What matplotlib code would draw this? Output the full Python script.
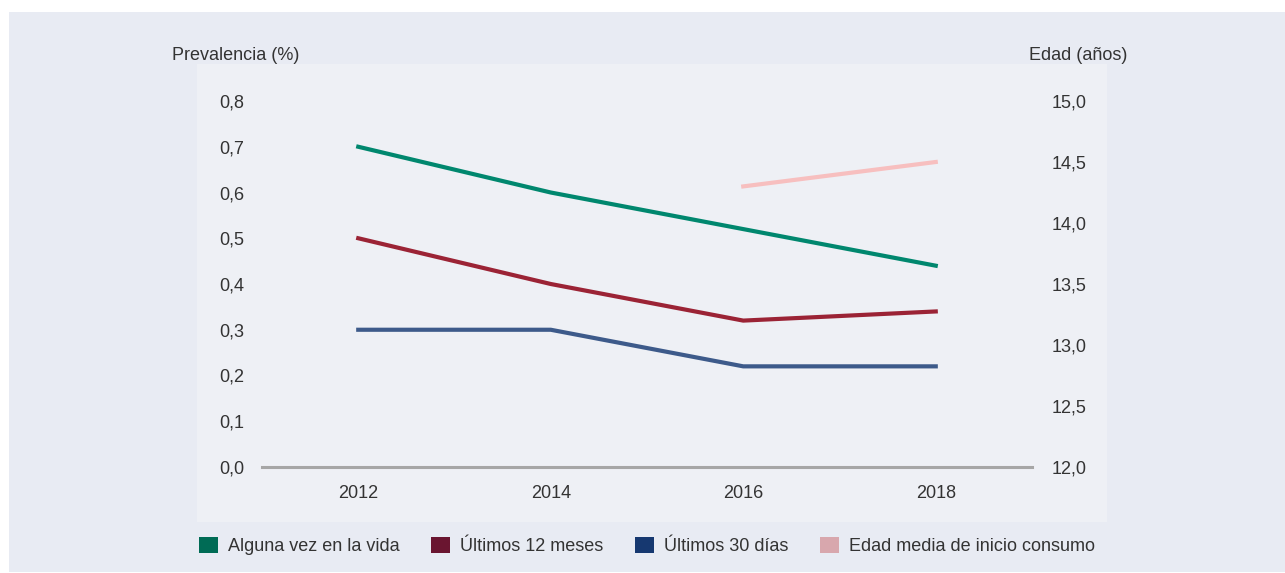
import matplotlib
matplotlib.use("Agg")
import matplotlib.pyplot as plt
from matplotlib.patches import Rectangle, Patch

years = [2012, 2014, 2016, 2018]
alguna_vez = [0.70, 0.60, 0.52, 0.44]
ultimos_12 = [0.50, 0.40, 0.32, 0.34]
ultimos_30 = [0.30, 0.30, 0.22, 0.22]
edad_years = [2016, 2018]
edad_media = [14.3, 14.5]

left_ticks = [0.0, 0.1, 0.2, 0.3, 0.4, 0.5, 0.6, 0.7, 0.8]
right_ticks = [12.0, 12.5, 13.0, 13.5, 14.0, 14.5, 15.0]
labels = ["Alguna vez en la vida", "Últimos 12 meses", "Últimos 30 días",
          "Edad media de inicio consumo"]
line_colors = ["#00876e", "#9b2335", "#3d5a8a", "#f7bfbf"]
legend_colors = ["#006b55", "#6a1530", "#163870", "#d8a7ad"]

plt.rcParams['font.family'] = ['Liberation Sans', 'DejaVu Sans']
W, H = 1285, 573
fig = plt.figure(figsize=(W / 100, H / 100), dpi=100, facecolor="white")

def px(x0, y0, x1, y1):
    return (x0 / W, 1 - y1 / H, (x1 - x0) / W, (y1 - y0) / H)

# background panels
l, b, w, h = px(9, 12, 1285, 572)
fig.patches.append(Rectangle((l, b), w, h, transform=fig.transFigure,
                             facecolor="#e8ebf3", edgecolor="none", zorder=-10))
l, b, w, h = px(197, 64, 1107, 522)
fig.patches.append(Rectangle((l, b), w, h, transform=fig.transFigure,
                             facecolor="#eef0f5", edgecolor="none", zorder=-9))

ax = fig.add_axes(px(262, 101, 1032, 467))
ax.set_facecolor("none")
ax.set_xlim(2011.0, 2019.0)
ax.set_ylim(0, 0.8)
ax2 = ax.twinx()
ax2.set_ylim(12.0, 15.0)
ax2.set_facecolor("none")

txtc = "#333333"
fs = 13
ax.set_yticks(left_ticks)
ax.set_yticklabels([f"{v:.1f}".replace(".", ",") for v in left_ticks])
ax2.set_yticks(right_ticks)
ax2.set_yticklabels([f"{v:.1f}".replace(".", ",") for v in right_ticks])
ax.set_xticks(years)
ax.set_xticklabels([str(y) for y in years])
ax.tick_params(axis="y", length=0, pad=13, labelsize=fs, labelcolor=txtc)
ax2.tick_params(axis="y", length=0, pad=14, labelsize=fs, labelcolor=txtc)
ax.tick_params(axis="x", length=0, pad=13, labelsize=fs, labelcolor=txtc)
for a in (ax, ax2):
    for s in a.spines.values():
        s.set_visible(False)
ax.axhline(0, color="#a6a6a6", lw=2.2, zorder=1, clip_on=False)

lw = 3.0
ax.plot(years, alguna_vez, color=line_colors[0], lw=lw, clip_on=False, zorder=3)
ax.plot(years, ultimos_12, color=line_colors[1], lw=lw, clip_on=False, zorder=3)
ax.plot(years, ultimos_30, color=line_colors[2], lw=lw, clip_on=False, zorder=3)
ax2.plot(edad_years, edad_media, color=line_colors[3], lw=lw, clip_on=False, zorder=3)

fig.text(172 / W, 1 - 55 / H, "Prevalencia (%)", fontsize=fs, color=txtc,
         ha="left", va="center")
fig.text(1127 / W, 1 - 55 / H, "Edad (años)", fontsize=fs, color=txtc,
         ha="right", va="center")

handles = [Patch(facecolor=c, edgecolor="none") for c in legend_colors]
fig.legend(handles, labels, loc="center left", bbox_to_anchor=(199 / W, 1 - 546 / H),
           ncol=4, frameon=False, fontsize=fs, handlelength=1.05, handleheight=1.05,
           handletextpad=0.55, columnspacing=1.75, labelcolor=txtc,
           borderaxespad=0, borderpad=0)

fig.savefig("out.png", dpi=100, facecolor="white")
